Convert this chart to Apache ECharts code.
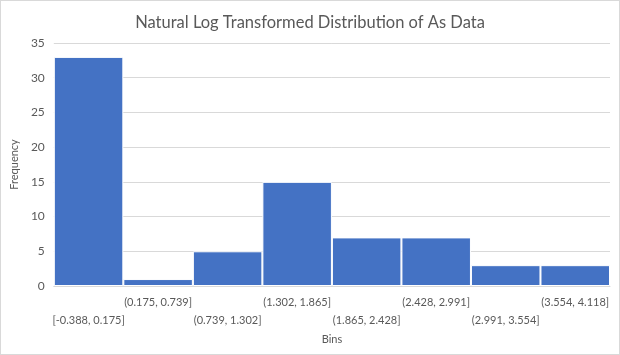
<!DOCTYPE html>
<html><head><meta charset="utf-8">
<script src="https://cdn.jsdelivr.net/npm/echarts@6/dist/echarts.min.js"></script>
<style>html,body{margin:0;padding:0;background:#fff}#c{width:618px;height:353px;border:1px solid #d9d9d9}</style>
</head><body><div id="c"></div>
<script>
const categories = ['[-0.388, 0.175]','(0.175, 0.739]','(0.739, 1.302]','(1.302, 1.865]','(1.865, 2.428]','(2.428, 2.991]','(2.991, 3.554]','(3.554, 4.118]'];
const frequency = [33, 1, 5, 15, 7, 7, 3, 3];
const yTicks = {min: 0, max: 35, interval: 5};
const chart = echarts.init(document.getElementById('c'));
chart.setOption({
  animation: false,
  title: {text: 'Natural Log Transformed Distribution of As Data', left: 'center', top: 8,
    textStyle: {fontFamily: 'Lato', fontSize: 16.5, fontWeight: 'normal', color: '#595959'}},
  grid: {left: 50, right: 9, top: 42, bottom: 68},
  xAxis: {type: 'category', data: categories, name: 'Bins', nameLocation: 'middle', nameGap: 48,
    nameTextStyle: {fontFamily: 'Lato', fontSize: 11, color: '#595959'},
    axisLine: {lineStyle: {color: '#d9d9d9'}}, axisTick: {show: false},
    axisLabel: {interval: 0, margin: 7, fontFamily: 'Lato', fontSize: 11, color: '#595959', lineHeight: 18,
      formatter: (v, i) => i % 2 === 0 ? '\n' + v : v + '\n'}},
  yAxis: {type: 'value', min: yTicks.min, max: yTicks.max, interval: yTicks.interval,
    name: 'Frequency', nameLocation: 'middle', nameGap: 31,
    nameTextStyle: {fontFamily: 'Lato', fontSize: 11, color: '#595959'},
    axisLabel: {fontFamily: 'Lato', fontSize: 12, color: '#595959', margin: 9},
    splitLine: {lineStyle: {color: '#d9d9d9'}}},
  series: [{type: 'bar', data: frequency, barCategoryGap: '0%',
    itemStyle: {color: '#4472c4', borderColor: '#ffffff', borderWidth: 1}}]
});
</script></body></html>
